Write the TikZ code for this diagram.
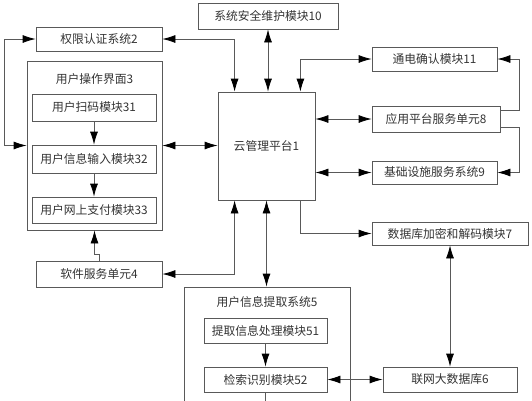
\documentclass[tikz,border=0pt]{standalone}
\usepackage{fontspec}
\setmainfont{Noto Sans CJK SC}
\usetikzlibrary{arrows.meta}
\begin{document}
\begin{tikzpicture}[x=1pt, y=-1pt, line width=0.8pt,
    every node/.style={rectangle, draw=black!65, text=black!80, font=\fontsize{11.8}{13}\selectfont, inner sep=0pt},
    title/.style={draw=none},
    >={Latex[length=13pt, width=8pt, color=black]}]
        \useasboundingbox (0,0) rectangle (532,400);
        \clip (0,0) rectangle (532,400);
        \node[minimum width=140, minimum height=26] (10) at (268, 16) {系统安全维护模块10};
        \node[minimum width=126, minimum height=24] (2) at (99, 39) {权限认证系统2};
        \node[minimum width=135, minimum height=169] (3) at (94.5, 145.5) {};
        \node[title] (3t) at (94.5, 79) {用户操作界面3};
        \node[minimum width=124, minimum height=27] (31) at (94, 107.5) {用户扫码模块31};
        \node[minimum width=124, minimum height=28] (32) at (94, 159) {用户信息输入模块32};
        \node[minimum width=124, minimum height=26] (33) at (94, 210) {用户网上支付模块33};
        \node[minimum width=126, minimum height=26] (4) at (99, 274) {软件服务单元4};
        \node[minimum width=97, minimum height=108] (1) at (266.5, 146) {云管理平台1};
        \node[minimum width=125, minimum height=24] (11) at (434.5, 59) {通电确认模块11};
        \node[minimum width=128, minimum height=26] (8) at (436, 119) {应用平台服务单元8};
        \node[minimum width=125, minimum height=23] (9) at (434.5, 172.5) {基础设施服务系统9};
        \node[minimum width=156, minimum height=23] (7) at (450, 233.5) {数据库加密和解码模块7};
        \node[minimum width=134, minimum height=25] (6) at (450, 379.5) {联网大数据库6};
        \node[minimum width=166, minimum height=123] (5) at (267, 348.5) {};
        \node[title] (5t) at (267, 302) {用户信息提取系统5};
        \node[minimum width=123, minimum height=25] (51) at (265.5, 330.5) {提取信息处理模块51};
        \node[minimum width=123, minimum height=25] (52) at (265.5, 379.5) {检索识别模块52};
        \draw[<->, black!65] (10.south) -- (10.south |- 1.north);
        \draw[<->, black!65] (2.east) -| ([xshift=17pt]1.north west);
        \draw[<->, black!65] (2.west) -- ++(-31,0) |- (3.west);
        \draw[<->, black!65] (3.east) -- (3.east -| 1.west);
        \draw[->, black!65] (31.south) -- (32.north);
        \draw[->, black!65] (32.south) -- (33.north);
        \draw[->, black!65] (4.north) -- ++(0,-6) -| (3.south);
        \draw[<->, black!65] ([xshift=17pt]1.south west) |- (4.east);
        \draw[<->, black!65] (1.south) -- (1.south |- 5.north);
        \draw[<->, black!65] ([xshift=-15pt]1.north east) |- (11.west);
        \draw[<->, black!65] (1.east |- 8.west) -- (8.west);
        \draw[<->, black!65] (1.east |- 9.west) -- (9.west);
        \draw[->, black!65] ([yshift=9pt]8.east) -- ++(19,0) |- (11.east);
        \draw[->, black!65] ([yshift=-8pt]8.east) -- ++(19,0) |- (9.east);
        \draw[->, black!65] ([xshift=-15pt]1.south east) |- (7.west);
        \draw[<->, black!65] (7.south) -- (6.north);
        \draw[<->, black!65] (52.east) -- (6.west);
        \draw[->, black!65] (51.south) -- (52.north);
        \draw[black!65] (52.south) -- ++(0,12);
    \end{tikzpicture}
\end{document}
